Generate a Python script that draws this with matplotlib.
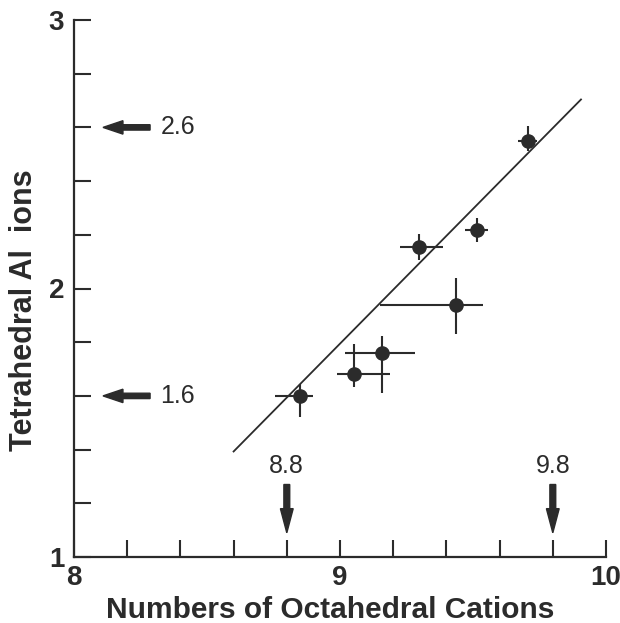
import numpy as np
import matplotlib
matplotlib.use("Agg")
import matplotlib.pyplot as plt
from matplotlib.ticker import MultipleLocator

# data
oct_cations = [8.85, 9.054, 9.159, 9.297, 9.436, 9.514, 9.706]
tet_al = [1.60, 1.681, 1.758, 2.155, 1.939, 2.217, 2.55]
xerr_lo = [0.094, 0.066, 0.140, 0.071, 0.286, 0.044, 0.035]
xerr_hi = [0.048, 0.134, 0.123, 0.091, 0.102, 0.044, 0.035]
yerr_lo = [0.079, 0.048, 0.146, 0.047, 0.110, 0.044, 0.037]
yerr_hi = [0.046, 0.111, 0.066, 0.047, 0.100, 0.044, 0.054]

fit_x = [8.6, 9.906]
fit_y = [1.393, 2.704]

y_marks = [2.6, 1.6]
x_marks = [8.8, 9.8]

ink = "#2b2b2b"
plt.rcParams['font.family'] = ['Liberation Sans', 'DejaVu Sans']

fig = plt.figure(figsize=(6.2, 6.23), dpi=100)
ax = fig.add_axes([74/620, 1 - 557/623, (606 - 74)/620, (557 - 20)/623])

ax.plot(fit_x, fit_y, color=ink, lw=1.3)
ax.errorbar(oct_cations, tet_al,
            xerr=[xerr_lo, xerr_hi], yerr=[yerr_lo, yerr_hi],
            fmt='o', color=ink, ms=9.5, elinewidth=1.5, capsize=0)

# arrows marking limits on each axis
for v in y_marks:
    ax.arrow(8.286, v, -0.177, 0, width=0.02, head_width=0.05, head_length=0.075,
             length_includes_head=True, color=ink, clip_on=False)
    ax.text(8.325, v, f"{v:.1f}", fontsize=18, color=ink, va='center', ha='left')
for v in x_marks:
    ax.arrow(v, 1.27, 0, -0.18, width=0.022, head_width=0.048, head_length=0.09,
             length_includes_head=True, color=ink, clip_on=False)
    ax.text(v, 1.295, f"{v:.1f}", fontsize=18, color=ink, va='bottom', ha='center')

ax.set_xlim(8, 10)
ax.set_ylim(1, 3)
ax.xaxis.set_major_locator(MultipleLocator(1))
ax.yaxis.set_major_locator(MultipleLocator(1))
ax.xaxis.set_minor_locator(MultipleLocator(0.2))
ax.yaxis.set_minor_locator(MultipleLocator(0.2))
ax.tick_params(which='both', direction='in', length=12, width=1.5, color=ink)
ax.tick_params(axis='x', which='major', pad=6, labelsize=20, labelcolor=ink)
ax.tick_params(axis='y', which='major', pad=7, labelsize=20, labelcolor=ink)
for lab in ax.get_xticklabels() + ax.get_yticklabels():
    lab.set_fontweight('bold')

for s in ['top', 'right']:
    ax.spines[s].set_visible(False)
for s in ['left', 'bottom']:
    ax.spines[s].set_linewidth(1.6)
    ax.spines[s].set_color(ink)

ax.set_xlabel("Numbers of Octahedral Cations", fontsize=21.5, fontweight='bold',
              color=ink)
ax.xaxis.set_label_coords(0.482, -0.072)
ax.set_ylabel("Tetrahedral Al  ions", fontsize=22, fontweight='bold', color=ink)
ax.yaxis.set_label_coords(-0.065, 0.46)

fig.savefig("out.png", dpi=100)
